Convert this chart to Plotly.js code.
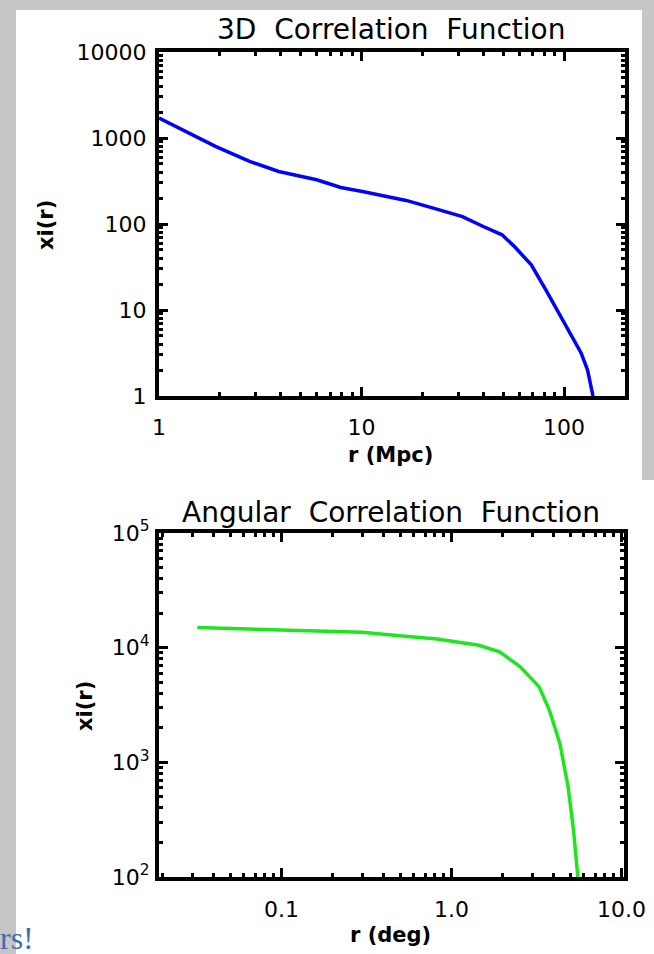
<!DOCTYPE html>
<html>
<head>
<meta charset="utf-8">
<script src="https://cdn.plot.ly/plotly-3.0.1.min.js"></script>
<style>
html,body{margin:0;padding:0;background:#c6c6c6;}
#chart{width:654px;height:954px;}
</style>
</head>
<body>
<div id="chart"></div>
<script>
// ---- Data ----
const r3d  = [1, 1.9, 2.8, 3.9, 6.0, 7.9, 10.1, 13.4, 16.6, 22.6, 31.5, 39.9, 49.4, 56.9, 68.9, 81.3, 98.3, 121.6, 130.6, 139];
const xi3d = [1706, 798, 534, 408, 327, 266, 239, 209, 188, 153, 122, 93.5, 74.8, 54.7, 33.5, 17.1, 7.67, 3.14, 2.01, 1];

const rAng  = [0.032, 0.114, 0.298, 0.494, 0.822, 1.45, 1.92, 2.54, 3.28, 3.77, 4.35, 4.86, 5.23, 5.54];
const xiAng = [15000, 14250, 13600, 12700, 11900, 10500, 9200, 6800, 4550, 2840, 1450, 606, 253, 100];

const title3d = "3D&nbsp; Correlation&nbsp; Function";
const titleAng = "Angular&nbsp; Correlation&nbsp; Function";
const xTitle3d = "r (Mpc)";
const xTitleAng = "r (deg)";
const yTitle = "xi(r)";

const x3dTickVals = [1, 10, 100];
const x3dTickText = ["1", "10", "100"];
const y3dTickVals = [1, 10, 100, 1000, 10000];
const y3dTickText = ["1", "10", "100", "1000", "10000"];

const xAngTickVals = [0.1, 1, 10];
const xAngTickText = ["0.1", "1.0", "10.0"];
const yAngTickVals = [100, 1000, 10000, 100000];
const yAngTickText = ["10<sup>2</sup>", "10<sup>3</sup>", "10<sup>4</sup>", "10<sup>5</sup>"];

const slideText = "rs!";

// ---- helpers ----
function minorTicks(lo, hi) {
  const out = [];
  for (let d = Math.floor(Math.log10(lo)) - 1; d <= Math.ceil(Math.log10(hi)); d++) {
    for (let k = 2; k <= 9; k++) {
      const v = k * Math.pow(10, d);
      if (v > lo && v < hi) out.push(v);
    }
  }
  return out;
}

const W = 654, H = 954;
const FONT = "DejaVu Sans, Arial, sans-serif";

function axisBase(extra) {
  return Object.assign({
    type: "log",
    showgrid: false,
    zeroline: false,
    showline: true,
    linecolor: "#000",
    linewidth: 4,
    mirror: "ticks",
    ticks: "inside",
    ticklen: 9,
    tickwidth: 3,
    tickcolor: "#000",
    tickmode: "array",
    tickfont: {family: FONT, size: 22, color: "#000"},
    fixedrange: true
  }, extra);
}
function minorOf(lo, hi) {
  return {tickmode: "array", tickvals: minorTicks(lo, hi), ticks: "inside", ticklen: 4, tickwidth: 3, tickcolor: "#000"};
}

const traces = [
  {x: r3d, y: xi3d, type: "scatter", mode: "lines",
   line: {color: "#0000ff", width: 3.5}, xaxis: "x", yaxis: "y", hoverinfo: "skip"},
  {x: rAng, y: xiAng, type: "scatter", mode: "lines",
   line: {color: "#1ee61e", width: 3.5}, xaxis: "x2", yaxis: "y2", hoverinfo: "skip"}
];

function txt(text, x, y, size, extra) {
  return Object.assign({text: text, xref: "paper", yref: "paper", x: x / W, y: 1 - y / H,
    xanchor: "center", yanchor: "middle", showarrow: false,
    font: {family: FONT, size: size, color: "#000"}}, extra || {});
}

const layout = {
  width: W, height: H,
  margin: {l: 0, r: 0, t: 0, b: 0},
  paper_bgcolor: "#c6c6c6",
  plot_bgcolor: "#ffffff",
  showlegend: false,
  xaxis: axisBase({
    domain: [159 / W, 625 / W],
    range: [0, Math.log10(200)],
    tickvals: x3dTickVals, ticktext: x3dTickText,
    minor: minorOf(1, 200),
    ticklabelstandoff: 9,
    anchor: "y"
  }),
  yaxis: axisBase({
    domain: [1 - 396 / H, 1 - 52 / H],
    range: [0, 4],
    tickvals: y3dTickVals, ticktext: y3dTickText,
    minor: minorOf(1, 10000),
    ticklabelstandoff: 4,
    anchor: "x"
  }),
  xaxis2: axisBase({
    domain: [159 / W, 624 / W],
    range: [-1.72, 1.015],
    tickvals: xAngTickVals, ticktext: xAngTickText,
    minor: minorOf(0.019, 10.4),
    ticklabelstandoff: 10,
    anchor: "y2"
  }),
  yaxis2: axisBase({
    domain: [1 - 877 / H, 1 - 533 / H],
    range: [2, 5],
    tickvals: yAngTickVals, ticktext: yAngTickText,
    minor: minorOf(100, 100000),
    ticklabelstandoff: 1,
    anchor: "x2"
  }),
  shapes: [
    {type: "rect", xref: "paper", yref: "paper", layer: "below",
     x0: 16 / W, x1: 642 / W, y0: 0, y1: 1 - 10 / H,
     fillcolor: "#ffffff", line: {width: 0}},
    {type: "rect", xref: "paper", yref: "paper", layer: "below",
     x0: 642 / W, x1: 1, y0: 0, y1: 1 - 480 / H,
     fillcolor: "#ffffff", line: {width: 0}}
  ],
  annotations: [
    txt(title3d, 391, 30, 28),
    txt(titleAng, 391, 512, 28),
    txt("<b>" + xTitle3d + "</b>", 390, 455, 21),
    txt("<b>" + xTitleAng + "</b>", 390, 935, 21),
    txt("<b>" + yTitle + "</b>", 46, 225, 21, {textangle: -90}),
    txt("<b>" + yTitle + "</b>", 85, 706, 21, {textangle: -90}),
    {text: slideText, xref: "paper", yref: "paper", x: 36 / W, y: 1 - 958 / H,
     xanchor: "right", yanchor: "bottom", showarrow: false,
     font: {family: "Liberation Serif, serif", size: 32, color: "#3c6ead"}}
  ]
};

Plotly.newPlot("chart", traces, layout, {displayModeBar: false, staticPlot: true});
</script>
</body>
</html>
